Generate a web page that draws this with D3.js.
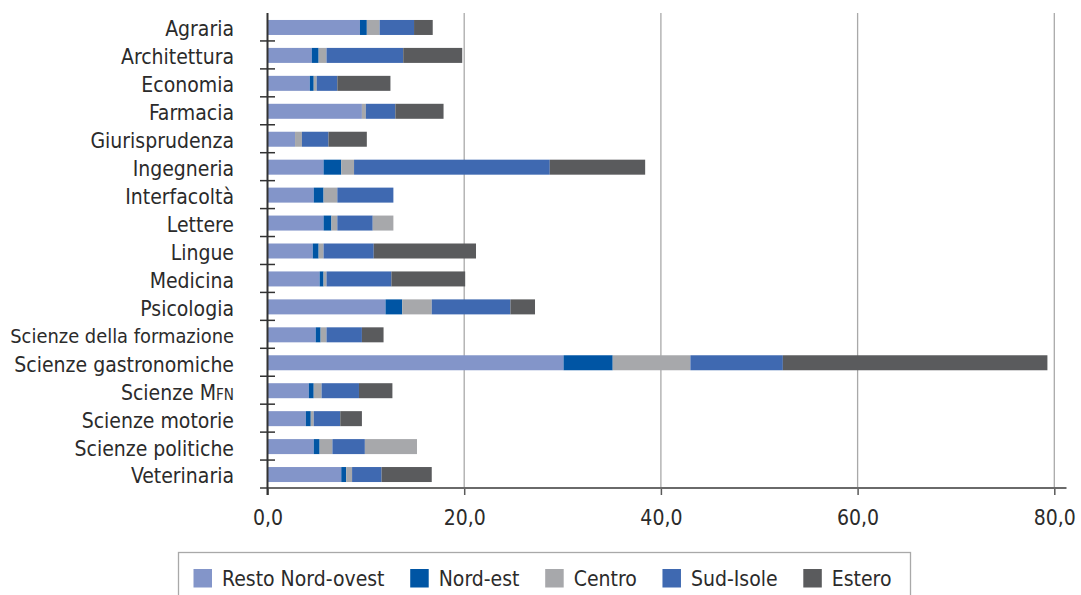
<!DOCTYPE html>
<html>
<head>
<meta charset="utf-8">
<script src="https://cdn.jsdelivr.net/npm/d3@7"></script>
<style>
  html, body { margin: 0; padding: 0; background: #ffffff; }
  svg { display: block; }
  text { font-family: "DejaVu Sans Condensed", "DejaVu Sans", sans-serif; font-stretch: condensed; fill: #2b2b2b; }
</style>
</head>
<body>
<svg id="chart" width="1081" height="595"></svg>
<script>
// ---- data ----
const categories = ["Agraria", "Architettura", "Economia", "Farmacia", "Giurisprudenza",
  "Ingegneria", "Interfacoltà", "Lettere", "Lingue", "Medicina", "Psicologia",
  "Scienze della formazione", "Scienze gastronomiche", "Scienze MFN", "Scienze motorie",
  "Scienze politiche", "Veterinaria"];
const seriesNames = ["Resto Nord-ovest", "Nord-est", "Centro", "Sud-Isole", "Estero"];
const restoNordOvest = [9.4, 4.5, 4.3, 9.6, 2.8, 5.7, 4.7, 5.7, 4.6, 5.3, 12.0, 4.9, 30.1, 4.2, 3.9, 4.7, 7.5];
const nordEst        = [0.7, 0.7, 0.4, 0.0, 0.0, 1.8, 1.0, 0.8, 0.6, 0.4, 1.7, 0.5, 5.0, 0.5, 0.5, 0.6, 0.5];
const centro         = [1.3, 0.8, 0.3, 0.4, 0.7, 1.3, 1.4, 0.6, 0.5, 0.3, 3.0, 0.6, 7.9, 0.8, 0.3, 1.3, 0.6];
const sudIsole       = [3.5, 7.8, 2.1, 3.0, 2.7, 19.9, 5.7, 3.6, 5.1, 6.6, 8.0, 3.6, 9.4, 3.8, 2.7, 3.3, 3.0];
const estero         = [1.9, 6.0, 5.4, 4.9, 3.9, 9.7, 0.0, 2.1, 10.4, 7.5, 2.5, 2.2, 26.9, 3.4, 2.2, 5.3, 5.1];
const xTickValues = [0, 20, 40, 60, 80];

// ---- styles ----
const colors = ["#8395c9", "#0055a4", "#a7a8ab", "#3f69b1", "#5a5b5d"];
// in the original, the last segment of these two rows is drawn in light grey
const lastSegmentOverride = { "Lettere": "#a7a8ab", "Scienze politiche": "#a7a8ab" };
const FONT = 21;
const MAX_LABEL_W = 224;

const svg = d3.select("#chart");
const x = d3.scaleLinear().domain([0, 80]).range([267.5, 1054.3]);
const y = d3.scaleBand().domain(categories).range([13, 488]).padding(0);
const barH = 15;

const seriesValues = [restoNordOvest, nordEst, centro, sudIsole, estero];
const rows = categories.map((c, i) => {
  const r = { cat: c };
  seriesNames.forEach((s, k) => r[s] = seriesValues[k][i]);
  return r;
});
const stacked = d3.stack().keys(seriesNames)(rows);

// gridlines
svg.append("g").selectAll("line").data(xTickValues.filter(d => d > 0)).join("line")
  .attr("x1", d => x(d)).attr("x2", d => x(d))
  .attr("y1", 13).attr("y2", 488)
  .attr("stroke", "#a9a9a9").attr("stroke-width", 1.3);

// bars
svg.append("g").selectAll("g").data(stacked).join("g")
  .each(function(layer, k) {
    d3.select(this).selectAll("rect").data(layer).join("rect")
      .attr("x", d => x(d[0]))
      .attr("width", d => Math.max(0, x(d[1]) - x(d[0])))
      .attr("y", d => y(d.data.cat) + (y.bandwidth() - barH) / 2 + 0.5)
      .attr("height", barH)
      .attr("fill", d => (k === seriesNames.length - 1 && lastSegmentOverride[d.data.cat]) ? lastSegmentOverride[d.data.cat] : colors[k]);
  });

// x axis
const xAxis = d3.axisBottom(x).tickValues(xTickValues)
  .tickFormat(d => d3.format(".1f")(d).replace(".", ","))
  .tickSizeInner(7).tickSizeOuter(0).tickPadding(15);
const gx = svg.append("g").attr("transform", "translate(0,488)").call(xAxis);
gx.select(".domain").remove();
gx.selectAll(".tick line").attr("stroke", "#5a5a5a").attr("stroke-width", 1.5);
gx.selectAll(".tick text").attr("font-size", FONT).attr("fill", "#2b2b2b")
  .style("font-family", null);
svg.append("line").attr("x1", 260).attr("x2", 1066.5).attr("y1", 488).attr("y2", 488)
  .attr("stroke", "#6a6a6a").attr("stroke-width", 2);

// y axis (labels)
const yAxis = d3.axisLeft(y).tickSize(0).tickPadding(33.5);
const gy = svg.append("g").attr("transform", "translate(267.5,0)").call(yAxis);
gy.select(".domain").remove();
gy.selectAll(".tick text").attr("font-size", FONT).attr("dy", "0.45em").attr("fill", "#2b2b2b")
  .each(function(d) {
    const t = d3.select(this);
    if (d === "Scienze MFN") {
      t.text("");
      t.append("tspan").text("Scienze M");
      t.append("tspan").attr("font-size", FONT * 0.72).text("FN");
    }
    const w = this.getComputedTextLength();
    if (w > MAX_LABEL_W) t.attr("font-size", FONT * MAX_LABEL_W / w);
  });
// category separators (cross ticks)
svg.append("g").selectAll("line").data(categories.slice(1)).join("line")
  .attr("x1", 260).attr("x2", 275)
  .attr("y1", d => y(d)).attr("y2", d => y(d))
  .attr("stroke", "#333333").attr("stroke-width", 1.5);
svg.append("line").attr("x1", 267.5).attr("x2", 267.5).attr("y1", 13).attr("y2", 495)
  .attr("stroke", "#333333").attr("stroke-width", 2);

// legend
const lg = svg.append("g");
lg.append("rect").attr("x", 178.5).attr("y", 552.5).attr("width", 732).attr("height", 80)
  .attr("fill", "none").attr("stroke", "#a9a9a9").attr("stroke-width", 1.3);
let lx = 193.5;
seriesNames.forEach((s, k) => {
  lg.append("rect").attr("x", lx).attr("y", 569).attr("width", 18.5).attr("height", 18.5).attr("fill", colors[k]);
  const t = lg.append("text").attr("x", lx + 28.5).attr("y", 586).attr("font-size", FONT).text(s);
  const w = t.node().getComputedTextLength();
  lx = lx + 28.5 + w + 25.7;
});
</script>
</body>
</html>
